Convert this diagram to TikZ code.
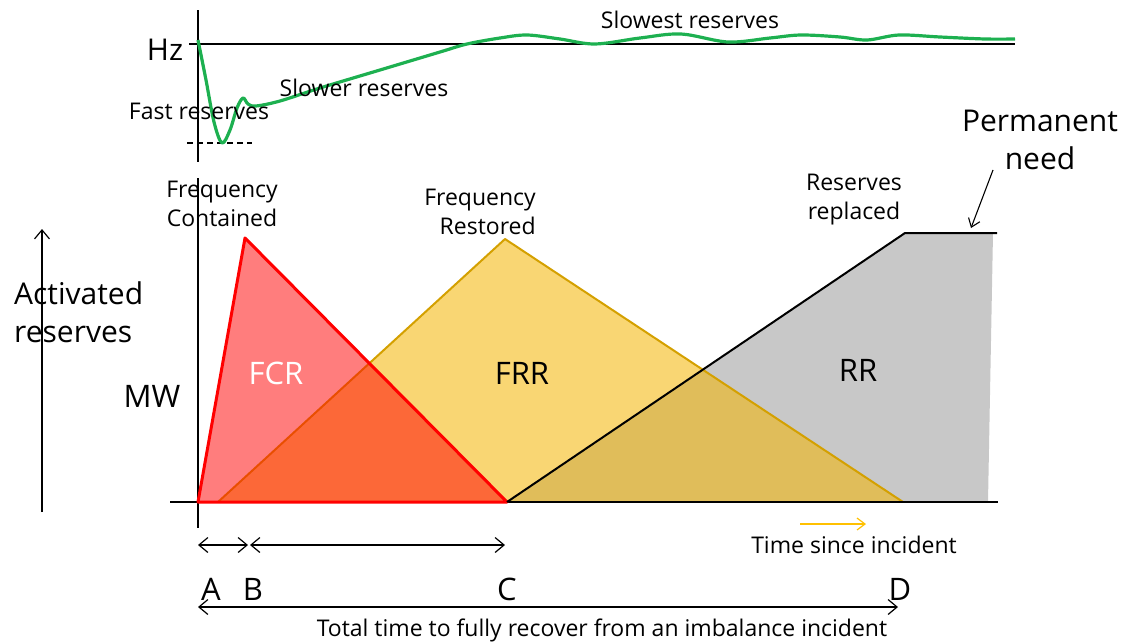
\documentclass[tikz,border=0pt]{standalone}
\usepackage{fontspec}
\setmainfont{Open Sans}
\usetikzlibrary{arrows.meta}
\definecolor{grn}{HTML}{1DB050}
\definecolor{frrfill}{HTML}{F4B400}
\definecolor{frrline}{HTML}{D4A000}
\definecolor{rrgray}{HTML}{C8C8C8}
\definecolor{timeyel}{HTML}{FFC000}
\tikzset{
  sm/.style={font=\fontsize{23}{29}\selectfont, inner sep=0pt},
  bg/.style={font=\fontsize{30}{38}\selectfont, inner sep=0pt},
  lt/.style={font=\fontsize{31}{34}\selectfont, inner sep=0pt},
  barb/.style={line width=1.2pt, {Straight Barb[length=9pt,width=15pt]}-{Straight Barb[length=9pt,width=15pt]}},
  onebarb/.style={line width=1.2pt, -{Straight Barb[length=9pt,width=15pt]}},
  axis/.style={line width=1.3pt, black},
}
\begin{document}
\begin{tikzpicture}[x=1pt,y=-1pt]
\useasboundingbox (0,0) rectangle (1122,643);
% ---------- top frequency chart ----------
\coordinate (hzT) at (198,10);
\coordinate (hzB) at (198,162);
\coordinate (hzL) at (189,44);
\coordinate (hzR) at (1015,44);
\coordinate (dashL) at (187,143);
\coordinate (dashR) at (252,143);
\draw[axis] (hzT) -- (hzB);
\draw[axis] (hzL) -- (hzR);
\draw[line width=1.1pt, dash pattern=on 6pt off 4pt] (dashL) -- (dashR);
\draw[grn, line width=3.2pt, line join=round] plot[smooth, tension=0.55] coordinates {
 (198,40) (206,80) (214,122) (222,143) (230,130) (237,108) (243,98) (248,104) (256,106)
 (280,101) (320,88) (380,70) (440,52) (467,44) (500,38) (527,35) (560,39) (595,44)
 (640,38) (681,34) (728,42) (770,38) (801,35) (840,37) (867,40) (899,35) (940,37) (985,39) (1015,39)};
\node[bg] (hz) at (165,50) {Hz};
\node[sm] (slowest) at (690,20) {Slowest reserves};
\node[sm] (slower) at (364,88) {Slower reserves};
\node[sm] (fast) at (199,111) {Fast reserves};
% ---------- main chart ----------
\coordinate (yTop) at (198,178);
\coordinate (yBot) at (198,528);
\coordinate (xL) at (170,502);
\coordinate (xR) at (998,502);
\coordinate (fcrA) at (198,502);
\coordinate (fcrP) at (245,238);
\coordinate (fcrC) at (507,502);
\coordinate (frrA) at (218,502);
\coordinate (frrP) at (505,239);
\coordinate (frrD) at (903,502);
\coordinate (rrA) at (507,502);
\coordinate (rrP) at (905,233);
\coordinate (rrE) at (997,233);
\coordinate (rrG) at (993,233);
\coordinate (rrGB) at (988,502);
% RR gray
\fill[rrgray] (rrA) -- (rrP) -- (rrG) -- (rrGB) -- cycle;
% FRR
\fill[frrfill, fill opacity=0.55] (frrA) -- (frrP) -- (frrD) -- cycle;
\draw[frrline, line width=2pt, line join=round] (frrA) -- (frrP) -- (frrD);
% FCR
\fill[red, fill opacity=0.51] (fcrA) -- (fcrP) -- (fcrC) -- cycle;
% axes
\draw[axis] (yTop) -- (yBot);
\draw[axis] (xL) -- (xR);
\draw[red, line width=3pt, line join=round] (fcrA) -- (fcrP) -- (fcrC) -- cycle;
% RR line
\draw[black, line width=2pt, line join=round] (rrA) -- (rrP) -- (rrE);
% labels
\node[sm, align=center] (fc) at (222,204) {Frequency\\Contained};
\node[sm, align=right] (fr) at (480,212) {Frequency\\Restored};
\node[sm, align=center] (rr) at (854,200) {Reserves\\replaced};
\node[bg, align=center] (perm) at (1040,140) {Permanent\\need};
\coordinate (permStart) at (993,170);
\coordinate (permTip) at (971,228);
\draw[line width=1.1pt, -{Straight Barb[length=8pt,width=12pt]}] (permStart) -- (permTip);
\node[bg, align=left, anchor=west] (act) at (14,312) {Activated\\reserves};
\coordinate (vaB) at (42,512);
\coordinate (vaT) at (42,229);
\draw[onebarb] (vaB) -- (vaT);
\node[lt] (mw) at (152,396) {MW};
\node[lt, white] (fcr) at (276,373) {FCR};
\node[lt] (frr) at (522,373) {FRR};
\node[lt] (rrl) at (858,370) {RR};
% time arrows
\coordinate (tA) at (198,545);
\coordinate (tB1) at (248,545);
\coordinate (tB2) at (250,545);
\coordinate (tC) at (505,545);
\draw[barb] (tA) -- (tB1);
\draw[barb] (tB2) -- (tC);
\node[lt] (la) at (211,589) {A};
\node[lt] (lb) at (253,589) {B};
\node[lt] (lc) at (507,589) {C};
\node[lt] (ld) at (900,589) {D};
\coordinate (totL) at (198,607);
\coordinate (totR) at (898,607);
\draw[barb] (totL) -- (totR);
\node[sm] (total) at (602,630) {Total time to fully recover from an imbalance incident};
\coordinate (yelL) at (800,524);
\coordinate (yelR) at (866,524);
\draw[timeyel, line width=1.2pt, -{Straight Barb[length=8pt,width=12pt]}] (yelL) -- (yelR);
\node[sm] (tsi) at (854,545) {Time since incident};
\end{tikzpicture}
\end{document}
